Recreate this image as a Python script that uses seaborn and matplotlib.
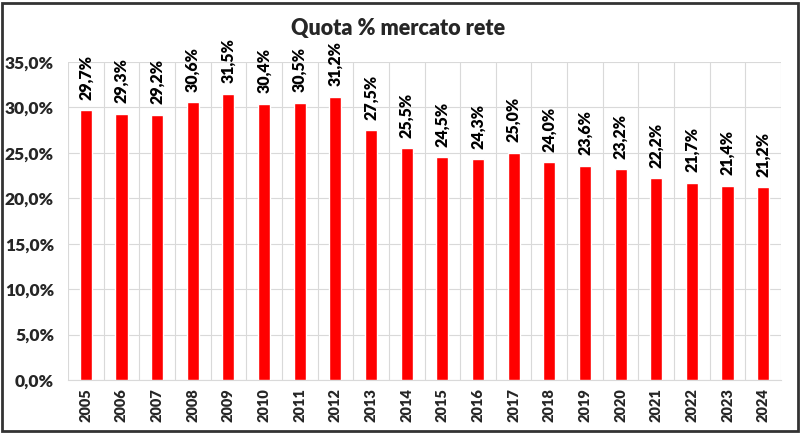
import matplotlib
matplotlib.use("Agg")
import matplotlib.pyplot as plt
import seaborn as sns
import pandas as pd
import numpy as np
from matplotlib.ticker import FuncFormatter, FixedLocator

years = ["2005", "2006", "2007", "2008", "2009", "2010", "2011", "2012", "2013", "2014",
         "2015", "2016", "2017", "2018", "2019", "2020", "2021", "2022", "2023", "2024"]
values = [29.7, 29.3, 29.2, 30.6, 31.5, 30.4, 30.5, 31.2, 27.5, 25.5,
          24.5, 24.3, 25.0, 24.0, 23.6, 23.2, 22.2, 21.7, 21.4, 21.2]
title = "Quota % mercato rete"

sns.set_style("white")
plt.rcParams['font.family'] = ['Lato', 'DejaVu Sans']

df = pd.DataFrame({"year": years, "value": values})

fig = plt.figure(figsize=(8.01, 4.33), dpi=100)
ax = fig.add_axes([68/801, 1-380/433, (781-68)/801, (380-62)/433])

sns.barplot(data=df, x="year", y="value", color="#FF0000", width=0.34,
            saturation=1, ax=ax, zorder=3)

ax.set_ylim(0, 35)
ax.set_xlim(-0.5, len(years)-0.5)
ax.set_yticks(np.arange(0, 35.1, 5))
ax.yaxis.set_major_formatter(FuncFormatter(lambda v, p: f"{v:.1f}%".replace(".", ",")))
ax.xaxis.set_minor_locator(FixedLocator(np.arange(-0.5, len(years), 1.0)))
ax.grid(axis="y", which="major", color="#D9D9D9", linewidth=0.8, zorder=0)
ax.grid(axis="x", which="minor", color="#D9D9D9", linewidth=0.8, zorder=0)
ax.grid(axis="x", which="major", visible=False)
for s in ["top", "right", "left"]:
    ax.spines[s].set_visible(False)
ax.spines["bottom"].set_color("#D9D9D9")
ax.spines["bottom"].set_linewidth(0.8)
ax.tick_params(axis="both", which="both", length=0)
ax.tick_params(axis="y", labelsize=12.5, pad=10)
ax.tick_params(axis="x", labelsize=10.5, pad=6)
for lbl in ax.get_yticklabels():
    lbl.set_fontweight("heavy")
for lbl in ax.get_xticklabels():
    lbl.set_fontweight("heavy")
    lbl.set_rotation(90)
ax.set_xlabel("")
ax.set_ylabel("")

for i, v in enumerate(values):
    ax.annotate(f"{v:.1f}%".replace(".", ","), (i, v), xytext=(0, 7.5),
                textcoords="offset points", rotation=90, ha="center", va="bottom",
                fontsize=11.5, fontweight="heavy", color="black")

fig.text(398/801, 1-28/433, title, ha="center", va="center", fontsize=15.5, fontweight="heavy")

border = plt.Rectangle((0.002, 0.004), 0.994, 0.99, transform=fig.transFigure,
                       fill=False, edgecolor="#333333", linewidth=2)
fig.patches.append(border)

fig.savefig("out.png", dpi=100)
